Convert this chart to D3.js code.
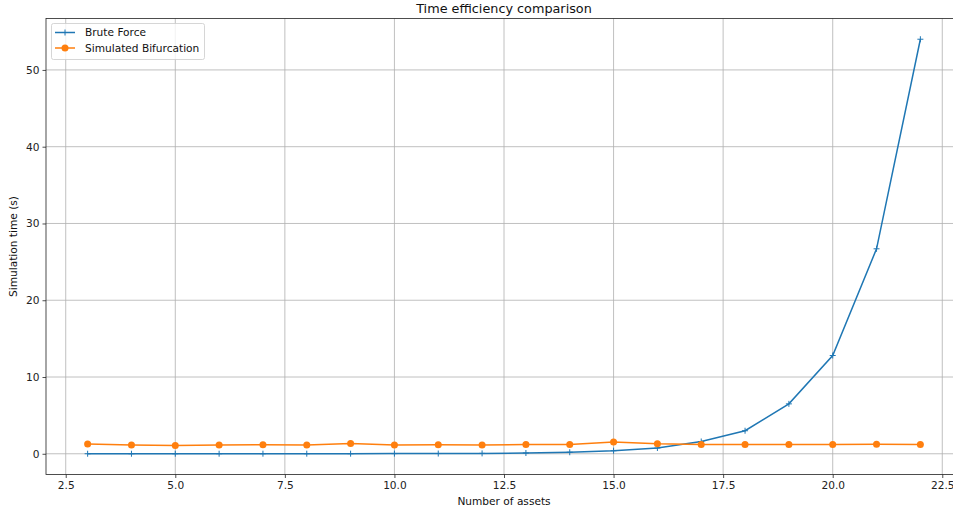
<!DOCTYPE html>
<html>
<head>
<meta charset="utf-8">
<script src="https://cdn.jsdelivr.net/npm/d3@7"></script>
<style>
  body { margin: 0; background: #fff; }
  svg { font-family: "DejaVu Sans", sans-serif; display: block; }
</style>
</head>
<body>
<div id="chart"></div>
<script>
const w = 953;
const h = 512;

// data
const assets = [3, 4, 5, 6, 7, 8, 9, 10, 11, 12, 13, 14, 15, 16, 17, 18, 19, 20, 21, 22];
const bruteForce = [0.005, 0.006, 0.007, 0.008, 0.01, 0.012, 0.015, 0.02, 0.03, 0.05, 0.1, 0.2, 0.4, 0.75, 1.6, 3.0, 6.5, 12.8, 26.7, 54.0];
const simBif = [1.26, 1.14, 1.08, 1.13, 1.17, 1.13, 1.33, 1.13, 1.17, 1.13, 1.22, 1.2, 1.54, 1.3, 1.21, 1.21, 1.21, 1.21, 1.23, 1.21];
const xTicks = [2.5, 5.0, 7.5, 10.0, 12.5, 15.0, 17.5, 20.0, 22.5];
const yTicks = [0, 10, 20, 30, 40, 50];

const pLeft = 46, pRight = 962, pTop = 18.5, pBottom = 474.5;
const fs = 10.6;

const svg = d3.select("#chart").append("svg")
  .attr("width", w)
  .attr("height", h);

const x = d3.scaleLinear().domain([2.05, 22.95]).range([pLeft, pRight]);
const y = d3.scaleLinear().domain([-2.7, 56.7]).range([pBottom, pTop]);

// grid
svg.append("g").selectAll("line").data(xTicks).enter().append("line")
  .attr("x1", d => x(d)).attr("x2", d => x(d))
  .attr("y1", pTop).attr("y2", pBottom)
  .attr("stroke", "#b0b0b0").attr("stroke-width", 0.8);
svg.append("g").selectAll("line").data(yTicks).enter().append("line")
  .attr("x1", pLeft).attr("x2", pRight)
  .attr("y1", d => y(d)).attr("y2", d => y(d))
  .attr("stroke", "#b0b0b0").attr("stroke-width", 0.8);

// axes
const xAxis = svg.append("g")
  .attr("transform", `translate(0,${pBottom})`)
  .call(d3.axisBottom(x).tickValues(xTicks).tickFormat(d3.format(".1f")).tickSizeOuter(0).tickSize(3.5).tickPadding(3));
const yAxis = svg.append("g")
  .attr("transform", `translate(${pLeft},0)`)
  .call(d3.axisLeft(y).tickValues(yTicks).tickSizeOuter(0).tickSize(3.5).tickPadding(3));
[xAxis, yAxis].forEach(a => {
  a.select(".domain").remove();
  a.selectAll("text").attr("font-size", fs).attr("fill", "#222").attr("font-family", "DejaVu Sans");
  a.selectAll(".tick line").attr("stroke", "#222").attr("stroke-width", 0.8);
});

// spines
svg.append("rect")
  .attr("x", pLeft).attr("y", pTop)
  .attr("width", pRight - pLeft).attr("height", pBottom - pTop)
  .attr("fill", "none").attr("stroke", "#222").attr("stroke-width", 0.8);

const line = d3.line().x((d, i) => x(assets[i])).y(d => y(d));

// brute force
svg.append("path").datum(bruteForce)
  .attr("d", line).attr("fill", "none")
  .attr("stroke", "#1f77b4").attr("stroke-width", 1.5);
svg.append("g").selectAll("path").data(bruteForce).enter().append("path")
  .attr("d", (d, i) => {
    const px = x(assets[i]), py = y(d);
    return `M${px - 3},${py}H${px + 3}M${px},${py - 3}V${py + 3}`;
  })
  .attr("stroke", "#1f77b4").attr("stroke-width", 1);

// simulated bifurcation
svg.append("path").datum(simBif)
  .attr("d", line).attr("fill", "none")
  .attr("stroke", "#ff7f0e").attr("stroke-width", 1.5);
svg.append("g").selectAll("circle").data(simBif).enter().append("circle")
  .attr("cx", (d, i) => x(assets[i])).attr("cy", d => y(d))
  .attr("r", 3.5).attr("fill", "#ff7f0e");

// labels
svg.append("text")
  .attr("x", (pLeft + pRight) / 2).attr("y", 12.5)
  .attr("text-anchor", "middle").attr("font-size", 12.8).attr("fill", "#111")
  .text("Time efficiency comparison");
svg.append("text")
  .attr("x", (pLeft + pRight) / 2).attr("y", 505)
  .attr("text-anchor", "middle").attr("font-size", fs).attr("fill", "#111")
  .text("Number of assets");
svg.append("text")
  .attr("transform", `translate(17,${(pTop + pBottom) / 2}) rotate(-90)`)
  .attr("text-anchor", "middle").attr("font-size", fs).attr("fill", "#111")
  .text("Simulation time (s)");

// legend
const lg = svg.append("g");
lg.append("rect")
  .attr("x", 51.5).attr("y", 23.5).attr("width", 153).attr("height", 36).attr("rx", 2)
  .attr("fill", "#fff").attr("fill-opacity", 0.8)
  .attr("stroke", "#ccc").attr("stroke-width", 0.8);
const legendItems = [
  { name: "Brute Force", color: "#1f77b4", marker: "plus" },
  { name: "Simulated Bifurcation", color: "#ff7f0e", marker: "circle" }
];
legendItems.forEach((it, i) => {
  const cy = 32.5 + i * 15.5;
  lg.append("line").attr("x1", 55).attr("x2", 75).attr("y1", cy).attr("y2", cy)
    .attr("stroke", it.color).attr("stroke-width", 1.5);
  if (it.marker === "plus") {
    lg.append("path").attr("d", `M62,${cy}H68M65,${cy - 3}V${cy + 3}`)
      .attr("stroke", it.color).attr("stroke-width", 1);
  } else {
    lg.append("circle").attr("cx", 65).attr("cy", cy).attr("r", 3.5).attr("fill", it.color);
  }
  lg.append("text").attr("x", 85).attr("y", cy + 3.8)
    .attr("font-size", fs).attr("fill", "#111").text(it.name);
});
</script>
</body>
</html>
